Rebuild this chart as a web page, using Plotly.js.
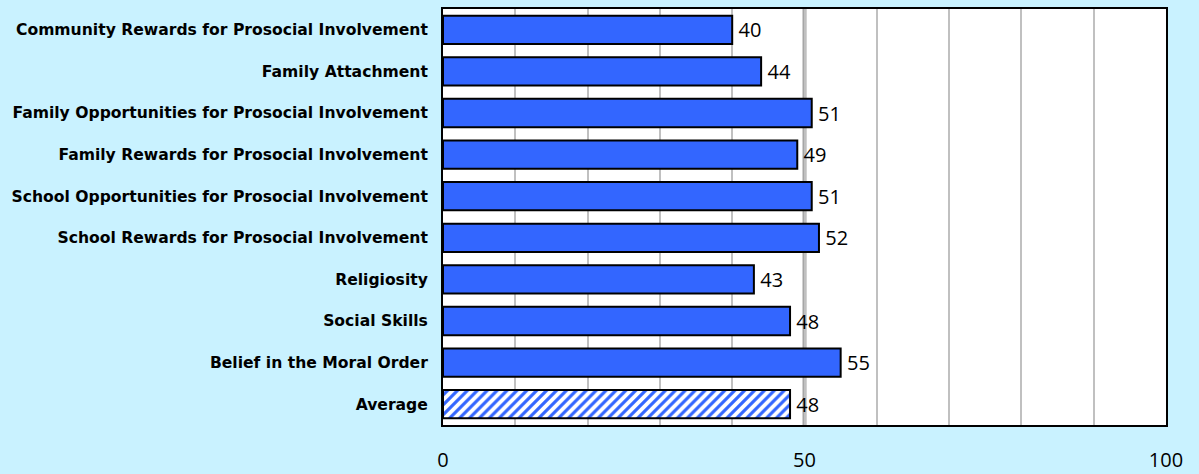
<!DOCTYPE html>
<html>
<head>
<meta charset="utf-8">
<script src="https://cdn.plot.ly/plotly-3.0.1.min.js"></script>
<style>html,body{margin:0;padding:0;background:#C9F2FF;}</style>
</head>
<body>
<div id="chart" style="width:1199px;height:474px;"></div>
<script>
const categories = [
  "Community Rewards for Prosocial Involvement",
  "Family Attachment",
  "Family Opportunities for Prosocial Involvement",
  "Family Rewards for Prosocial Involvement",
  "School Opportunities for Prosocial Involvement",
  "School Rewards for Prosocial Involvement",
  "Religiosity",
  "Social Skills",
  "Belief in the Moral Order",
  "Average"
];
const values = [40, 44, 51, 49, 51, 52, 43, 48, 55, 48];
const tickValues = [0, 10, 20, 30, 40, 50, 60, 70, 80, 90, 100];
const tickLabels = ["0", "", "", "", "", "50", "", "", "", "", "100"];

const blue = "#3366FF";
const isAvg = categories.map(c => c === "Average");

const trace = {
  type: "bar",
  orientation: "h",
  y: categories,
  x: values,
  width: 0.68,
  marker: {
    color: blue,
    line: {color: "black", width: 2},
    pattern: {
      shape: isAvg.map(a => a ? "/" : ""),
      bgcolor: "white",
      size: 7, solidity: 0.45, fillmode: "replace"
    }
  },
  text: values.map(v => "\u2009" + v),
  textposition: "outside",
  cliponaxis: false,
  textfont: {family: "'Open Sans', 'Noto Sans', sans-serif", size: 20, color: "#000"},
  hoverinfo: "skip"
};

const layout = {
  width: 1199, height: 474,
  margin: {l: 443, r: 33, t: 9, b: 49},
  paper_bgcolor: "#C9F2FF",
  plot_bgcolor: "#FFFFFF",
  showlegend: false,
  bargap: 0.32,
  xaxis: {
    range: [0, 100],
    tickvals: tickValues,
    ticktext: tickLabels,
    showgrid: true,
    gridcolor: "#C0C0C0",
    gridwidth: 2,
    zeroline: false,
    showline: true, mirror: true, linecolor: "#000", linewidth: 2,
    ticks: "",
    ticklabelstandoff: 16,
    tickfont: {family: "'Open Sans', 'Noto Sans', sans-serif", size: 20, color: "#000"},
    fixedrange: true
  },
  yaxis: {
    type: "category",
    autorange: "reversed",
    showgrid: false,
    zeroline: false,
    showline: true, mirror: true, linecolor: "#000", linewidth: 2,
    ticks: "",
    ticklabelstandoff: 10,
    tickfont: {family: "'DejaVu Sans', sans-serif", size: 15.6, color: "#000", weight: "bold"},
    fixedrange: true
  },
  shapes: [{
    type: "line", xref: "x", yref: "paper", x0: 50, x1: 50, y0: 0, y1: 1,
    line: {color: "#A6A6A6", width: 4}, layer: "below"
  }]
};

Plotly.newPlot("chart", [trace], layout, {displayModeBar: false, staticPlot: true});
</script>
</body>
</html>
